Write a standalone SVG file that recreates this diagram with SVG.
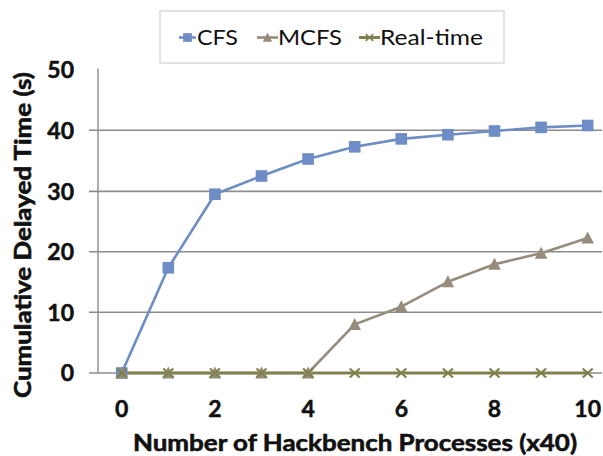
<svg xmlns="http://www.w3.org/2000/svg" width="603" height="456" viewBox="0 0 603 456">
  <style>
    .grid { stroke: #8c8c8c; stroke-width: 1.6; fill: none; }
    .axis { stroke: #8c8c8c; stroke-width: 1.4; fill: none; }
    .tick { font-family: Lato, "Open Sans", "Liberation Sans", sans-serif; font-weight: 700; font-size: 23px; fill: #111; stroke: #111; stroke-width: 0.5; }
    .title { font-family: Lato, "Open Sans", "Liberation Sans", sans-serif; font-weight: 700; font-size: 23px; fill: #111; stroke: #111; stroke-width: 0.6; }
    .legend { font-family: Lato, "Open Sans", "Liberation Sans", sans-serif; font-size: 21px; fill: #111; }
    .cfs { stroke: #6e8cc6; stroke-width: 2.6; fill: none; stroke-linejoin: round; }
    .mcfs { stroke: #958c7c; stroke-width: 2.6; fill: none; stroke-linejoin: round; }
    .rt { stroke: #80804c; stroke-width: 3; fill: none; }
    .sq { fill: #6e8cc6; }
    .tri { fill: #958c7c; }
    .xm { stroke: #80804c; stroke-width: 2.2; fill: none; }
  </style>
  <defs>
    <rect id="sq" x="-5.8" y="-5.8" width="11.6" height="11.6" class="sq"/>
    <polygon id="tri" points="0,-6.5 6.3,5.5 -6.3,5.5" class="tri"/>
    <path id="xm" d="M-5,-4.5 L5,4.5 M-5,4.5 L5,-4.5" class="xm"/>
  </defs>

  <rect width="603" height="456" fill="#ffffff"/>

  <!-- legend -->
  <g id="legend">
    <rect x="160" y="11" width="344" height="52" fill="#fff" stroke="#d9d9d9" stroke-width="1.5"/>
    <line x1="179" y1="37.5" x2="196" y2="37.5" class="cfs"/>
    <use href="#sq" transform="translate(187.5,37.5) scale(0.75)"/>
    <text x="197" y="44.5" class="legend" textLength="41" lengthAdjust="spacingAndGlyphs">CFS</text>
    <line x1="257" y1="37.5" x2="278" y2="37.5" class="mcfs"/>
    <use href="#tri" transform="translate(267.5,37.5) scale(0.75)"/>
    <text x="278" y="44.5" class="legend" textLength="64" lengthAdjust="spacingAndGlyphs">MCFS</text>
    <line x1="359" y1="37.5" x2="380" y2="37.5" class="rt" stroke-width="2"/>
    <use href="#xm" transform="translate(369.5,37.5) scale(0.75)"/>
    <text x="380" y="44.5" class="legend" textLength="103" lengthAdjust="spacingAndGlyphs">Real-time</text>
  </g>

  <!-- gridlines and axes -->
  <g id="axes">
    <line x1="89" y1="130.2" x2="602" y2="130.2" class="grid"/>
    <line x1="89" y1="191.4" x2="602" y2="191.4" class="grid"/>
    <line x1="89" y1="251.8" x2="602" y2="251.8" class="grid"/>
    <line x1="89" y1="312.2" x2="602" y2="312.2" class="grid"/>
    <line x1="89" y1="373" x2="602" y2="373" class="grid"/>
    <line x1="98" y1="68.5" x2="98" y2="373" class="axis"/>
  </g>

  <!-- axis labels -->
  <g id="y-ticks" text-anchor="end">
    <text x="74" y="77.5" class="tick">50</text>
    <text x="74" y="138.5" class="tick">40</text>
    <text x="74" y="199.5" class="tick">30</text>
    <text x="74" y="260" class="tick">20</text>
    <text x="74" y="320.5" class="tick">10</text>
    <text x="74" y="381" class="tick">0</text>
  </g>
  <g id="x-ticks" text-anchor="middle">
    <text x="121.7" y="417" class="tick">0</text>
    <text x="214.9" y="417" class="tick">2</text>
    <text x="308.1" y="417" class="tick">4</text>
    <text x="401.3" y="417" class="tick">6</text>
    <text x="494.5" y="417" class="tick">8</text>
    <text x="587.7" y="417" class="tick">10</text>
  </g>
  <text id="x-title" x="133" y="450.5" class="title" textLength="444" lengthAdjust="spacingAndGlyphs">Number of Hackbench Processes (x40)</text>
  <text id="y-title" transform="translate(31,398) rotate(-90)" class="title" textLength="326" lengthAdjust="spacingAndGlyphs">Cumulative Delayed Time (s)</text>

  <!-- data series -->
  <g id="connectors">
    <polyline id="cfs-line" class="cfs" points="121.7,373 168.3,267.8 214.9,194.2 261.5,176 308.1,159 354.7,146.8 401.3,138.9 447.9,134.7 494.5,131 541.1,127.4 587.7,125.5"/>
    <polyline id="mcfs-line" class="mcfs" points="121.7,373 168.3,373 214.9,373 261.5,373 308.1,373 354.7,324.4 401.3,306.7 447.9,281.8 494.5,264.2 541.1,253.2 587.7,238"/>
    <polyline id="rt-line" class="rt" points="121.7,373 587.7,373"/>
  </g>

  <g id="cfs-markers">
    <use href="#sq" x="121.7" y="373"/>
    <use href="#sq" x="168.3" y="267.8"/>
    <use href="#sq" x="214.9" y="194.2"/>
    <use href="#sq" x="261.5" y="176"/>
    <use href="#sq" x="308.1" y="159"/>
    <use href="#sq" x="354.7" y="146.8"/>
    <use href="#sq" x="401.3" y="138.9"/>
    <use href="#sq" x="447.9" y="134.7"/>
    <use href="#sq" x="494.5" y="131"/>
    <use href="#sq" x="541.1" y="127.4"/>
    <use href="#sq" x="587.7" y="125.5"/>
  </g>
  <g id="mcfs-markers">
    <use href="#tri" x="121.7" y="373"/>
    <use href="#tri" x="168.3" y="373"/>
    <use href="#tri" x="214.9" y="373"/>
    <use href="#tri" x="261.5" y="373"/>
    <use href="#tri" x="308.1" y="373"/>
    <use href="#tri" x="354.7" y="324.4"/>
    <use href="#tri" x="401.3" y="306.7"/>
    <use href="#tri" x="447.9" y="281.8"/>
    <use href="#tri" x="494.5" y="264.2"/>
    <use href="#tri" x="541.1" y="253.2"/>
    <use href="#tri" x="587.7" y="238"/>
  </g>
  <g id="rt-markers">
    <use href="#xm" x="121.7" y="373"/>
    <use href="#xm" x="168.3" y="373"/>
    <use href="#xm" x="214.9" y="373"/>
    <use href="#xm" x="261.5" y="373"/>
    <use href="#xm" x="308.1" y="373"/>
    <use href="#xm" x="354.7" y="373"/>
    <use href="#xm" x="401.3" y="373"/>
    <use href="#xm" x="447.9" y="373"/>
    <use href="#xm" x="494.5" y="373"/>
    <use href="#xm" x="541.1" y="373"/>
    <use href="#xm" x="587.7" y="373"/>
  </g>
</svg>
